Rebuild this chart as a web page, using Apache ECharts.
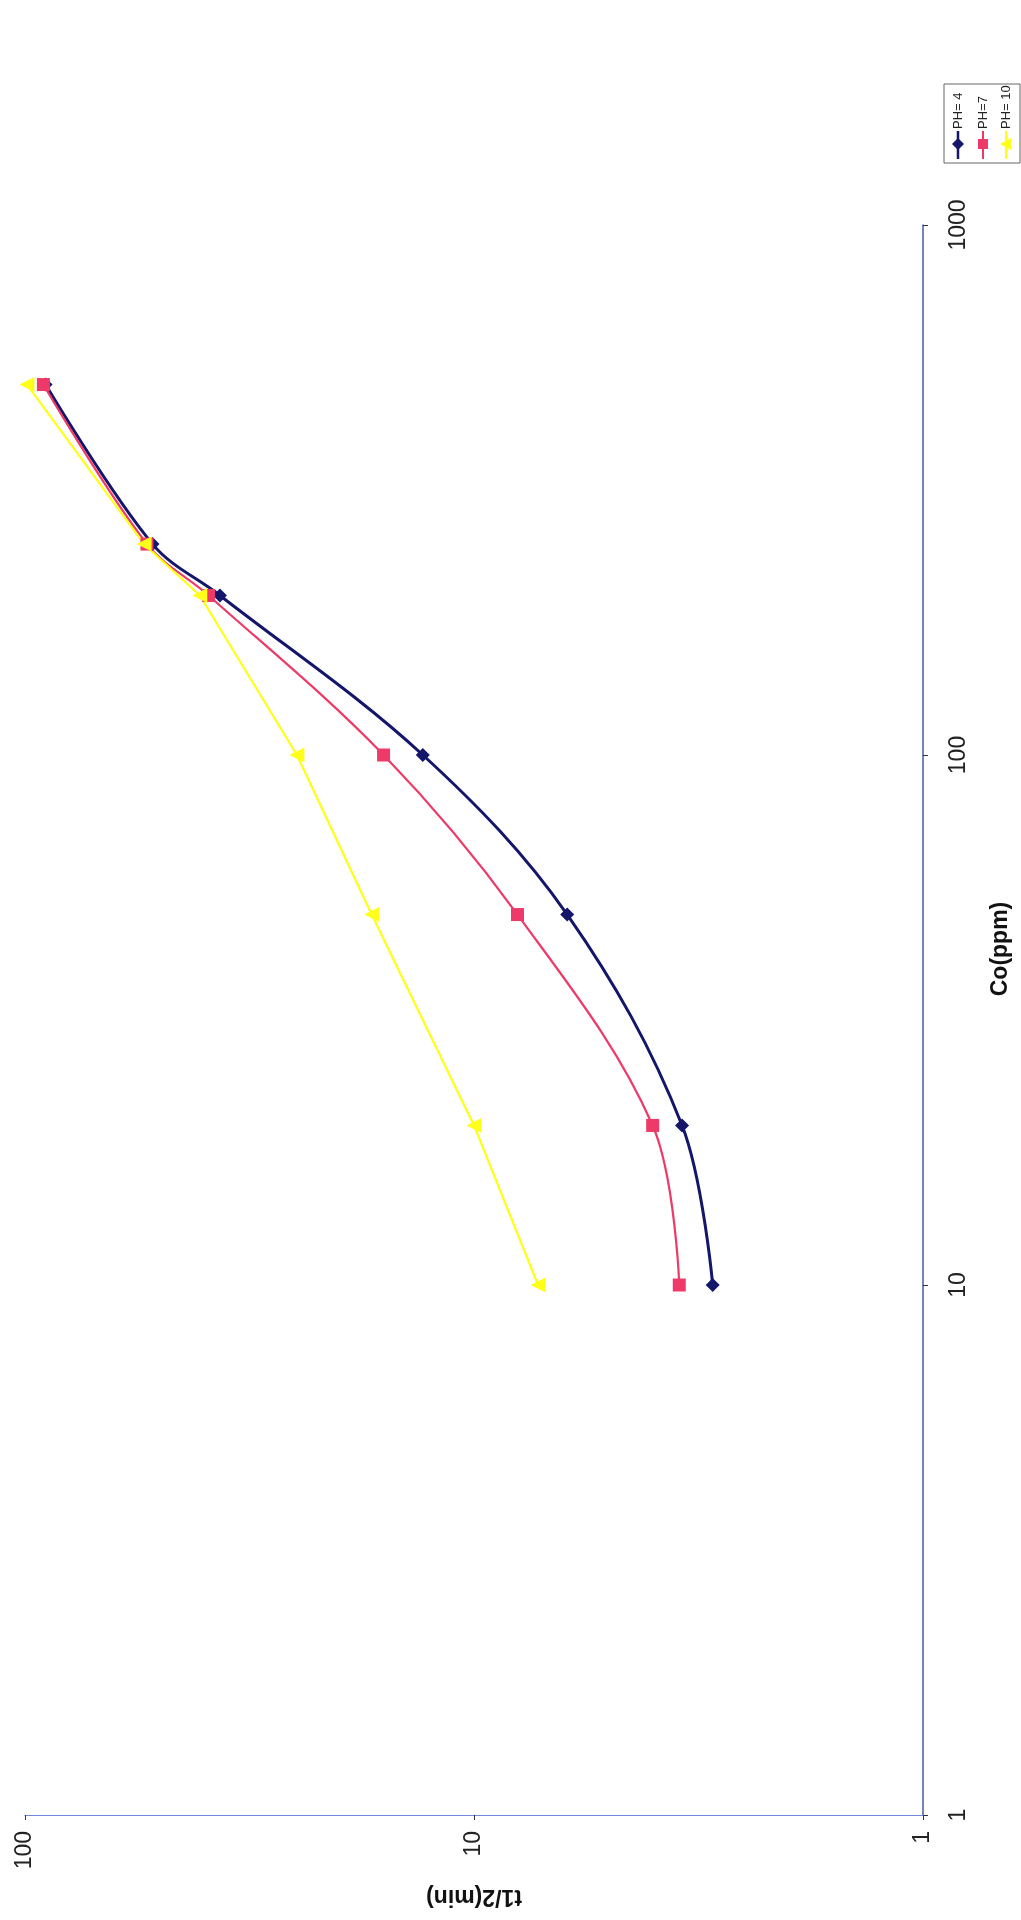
<!DOCTYPE html>
<html>
<head>
<meta charset="utf-8">
<script src="https://cdn.jsdelivr.net/npm/echarts@6/dist/echarts.min.js"></script>
<style>
html,body{margin:0;padding:0;background:#fff;}
#chart{width:1021px;height:1920px;}
</style>
</head>
<body>
<div id="chart"></div>
<script>
// Co (ppm) concentrations
var coValues = [10, 20, 50, 100, 200, 250, 500];
// t1/2 (min) values per series
var ph4 = [2.94, 3.44, 6.2, 13.0, 36.8, 52, 90];
var ph7 = [3.49, 4.0, 8.0, 15.9, 39, 53.5, 91];
var ph10 = [7.2, 10.0, 16.9, 24.8, 40.8, 54.3, 99];
var seriesNames = ['PH= 4', 'PH=7', 'PH= 10'];
var xName = 'Co(ppm)';
var yName = 't1/2(min)';

function pairs(tv) { return tv.map(function (t, i) { return [t, coValues[i]]; }); }

var colors = ['#14166a', '#ee3a68', '#ffff1a'];
var font = "'Liberation Sans', Arial, sans-serif";

var chart = echarts.init(document.getElementById('chart'), null, {renderer: 'canvas'});

var legendX = [958, 983, 1006];
var legendGraphics = [
  {type: 'rect', shape: {x: 944, y: 84, width: 76, height: 79}, style: {fill: '#fff', stroke: '#666', lineWidth: 1}}
];
seriesNames.forEach(function (n, i) {
  var x = legendX[i];
  legendGraphics.push({type: 'line', shape: {x1: x, y1: 131, x2: x, y2: 159}, style: {stroke: colors[i], lineWidth: i === 0 ? 2.5 : 2}});
  if (i === 0) {
    legendGraphics.push({type: 'polygon', shape: {points: [[x, 138], [x + 6, 144], [x, 150], [x - 6, 144]]}, style: {fill: colors[i]}});
  } else if (i === 1) {
    legendGraphics.push({type: 'rect', shape: {x: x - 5, y: 139, width: 10, height: 10}, style: {fill: colors[i]}});
  } else {
    legendGraphics.push({type: 'polygon', shape: {points: [[x - 6, 144], [x + 5, 138], [x + 5, 150]]}, style: {fill: colors[i]}});
  }
  legendGraphics.push({type: 'text', x: x, y: 129, rotation: Math.PI / 2,
    style: {text: n, x: 0, y: 0, align: 'left', verticalAlign: 'middle', font: '13px ' + font, fill: '#222'}});
});

legendGraphics.push({type: 'text', x: 1001, y: 949, rotation: Math.PI / 2,
  style: {text: xName, x: 0, y: 0, align: 'center', verticalAlign: 'middle', font: 'bold 23px ' + font, fill: '#111'}});

var symbols = ['diamond', 'rect', 'triangle'];
var datasets = [ph4, ph7, ph10];

chart.setOption({
  backgroundColor: '#fff',
  animation: false,
  grid: {left: 25, right: 98, top: 225, bottom: 105, containLabel: false},
  xAxis: {
    type: 'log', logBase: 10, min: 1, max: 100, inverse: true, position: 'bottom',
    name: yName, nameLocation: 'middle', nameGap: 70, nameRotate: 180,
    nameTextStyle: {fontFamily: font, fontWeight: 'bold', fontSize: 23, color: '#111'},
    axisLine: {show: true, onZero: false, lineStyle: {color: '#6f8ae0', width: 1}},
    axisTick: {show: true, length: 5, lineStyle: {color: '#333'}},
    axisLabel: {rotate: 90, margin: 16, fontFamily: font, fontSize: 23, color: '#222', showMinLabel: true, showMaxLabel: true,
      formatter: function (v) { return String(Math.round(v)); }},
    splitLine: {show: false}, minorTick: {show: false}
  },
  yAxis: {
    type: 'log', logBase: 10, min: 1, max: 1000, position: 'right',
    axisLine: {show: true, onZero: false, lineStyle: {color: '#4a5a9c', width: 1.5}},
    axisTick: {show: true, length: 5, lineStyle: {color: '#333'}},
    axisLabel: {rotate: 90, margin: 24, fontFamily: font, fontSize: 23, color: '#222', showMinLabel: true, showMaxLabel: true,
      formatter: function (v) { return String(Math.round(v)); }},
    splitLine: {show: false}
  },
  graphic: legendGraphics,
  series: seriesNames.map(function (n, i) {
    return {
      name: n, type: 'line', data: pairs(datasets[i]),
      smooth: i === 2 ? false : 0.35,
      symbol: symbols[i], symbolSize: i === 0 ? 14 : (i === 1 ? 13 : 15), symbolRotate: i === 2 ? 90 : 0,
      lineStyle: {color: colors[i], width: i === 0 ? 3 : 2.2},
      itemStyle: {color: colors[i]}
    };
  })
});
</script>
</body>
</html>
